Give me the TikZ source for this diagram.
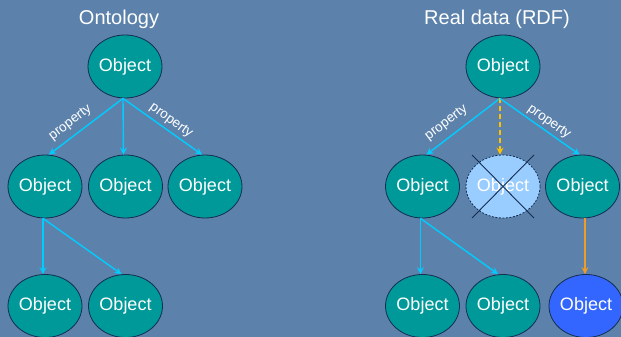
\documentclass[tikz,border=0pt]{standalone}
\usepackage{fontspec}
\setmainfont{Liberation Sans}
\usetikzlibrary{shapes.geometric,arrows.meta}
\definecolor{bg}{RGB}{92,130,172}
\definecolor{teal}{RGB}{0,153,153}
\definecolor{navy}{RGB}{20,45,80}
\definecolor{cyanarrow}{RGB}{0,204,255}
\definecolor{lightblue}{RGB}{153,204,255}
\definecolor{brightblue}{RGB}{51,102,255}
\definecolor{goldarrow}{RGB}{255,192,0}
\definecolor{orangearrow}{RGB}{240,155,40}
\tikzset{
  obj/.style={ellipse, draw=navy, line width=0.8pt, fill=teal, minimum width=74pt, minimum height=63pt, inner sep=0pt, text=white, font=\fontsize{18}{18}\selectfont},
  ghost/.style={obj, fill=lightblue, dash pattern=on 2pt off 1.5pt},
  newobj/.style={obj, fill=brightblue},
  rel/.style={draw=cyanarrow, line width=1.4pt, -{Stealth[length=7pt,width=7pt,inset=2.5pt]}},
  inferred/.style={draw=goldarrow, line width=1.4pt, dash pattern=on 5pt off 3pt, -{Stealth[length=7pt,width=7pt,inset=2.5pt]}},
  added/.style={draw=orangearrow, line width=1.4pt, -{Stealth[length=7pt,width=7pt,inset=2.5pt]}},
  plabel/.style={text=white, font=\fontsize{13.5}{13.5}\selectfont, inner sep=1pt},
  title/.style={text=white, font=\fontsize{20}{20}\selectfont, anchor=base},
  crossline/.style={draw=navy, line width=0.9pt}
}
\begin{document}
\begin{tikzpicture}[x=1pt,y=-1pt]
\useasboundingbox (0,0) rectangle (621,337);
\fill[bg] (0,0) rectangle (621,337);
% titles
\node[title] (t1) at (119,24.5) {Ontology};
\node[title] (t2) at (497,24.5) {Real data (RDF)};
% ontology
\node[obj] (a) at (125,66.5) {Object};
\node[obj] (b1) at (45,186.5) {Object};
\node[obj] (b2) at (125.5,186.5) {Object};
\node[obj] (b3) at (205,186.5) {Object};
\node[obj] (c1) at (45,306) {Object};
\node[obj] (c2) at (125.5,306) {Object};
\draw[rel] ([xshift=-2pt]a.south) -- ([xshift=4pt]b1.north);
\draw[rel] ([xshift=-2pt]a.south) -- ([xshift=-2pt]b2.north);
\draw[rel] ([xshift=-2pt]a.south) -- ([xshift=-3pt]b3.north);
\node[plabel, rotate=37.6] (p1) at (70.5,123) {property};
\node[plabel, rotate=-35.8] (p2) at (171,121) {property};
\draw[rel] ([xshift=-2pt]b1.south) -- ([xshift=-2pt]c1.north);
\draw[rel] ([xshift=-2pt]b1.south) -- ([xshift=-4pt]c2.north);
% real data
\node[obj] (d) at (503,66.5) {Object};
\node[obj] (e1) at (422.5,186.5) {Object};
\node[ghost] (e2) at (503,186.5) {Object};
\node[obj] (e3) at (582.5,186.5) {Object};
\node[obj] (f1) at (422.5,306) {Object};
\node[obj] (f2) at (503,306) {Object};
\node[newobj] (f3) at (586,306) {Object};
\draw[crossline] (e2.center) +(-31,-31.5) -- +(31,31.5);
\draw[crossline] (e2.center) +(31,-31.5) -- +(-31,31.5);
\draw[rel] ([xshift=-3pt]d.south) -- ([xshift=4pt]e1.north);
\draw[inferred] ([xshift=-3pt]d.south) -- ([xshift=-3pt]e2.north);
\draw[rel] ([xshift=-3pt]d.south) -- ([xshift=-3pt]e3.north);
\node[plabel, rotate=37.6] (p3) at (446.5,123) {property};
\node[plabel, rotate=-35.5] (p4) at (549,122) {property};
\draw[rel] ([xshift=-2pt]e1.south) -- ([xshift=-2pt]f1.north);
\draw[rel] ([xshift=-2pt]e1.south) -- ([xshift=-5pt]f2.north);
\draw[added] ([xshift=2.5pt]e3.south) -- ([xshift=-1pt]f3.north);
\end{tikzpicture}
\end{document}
